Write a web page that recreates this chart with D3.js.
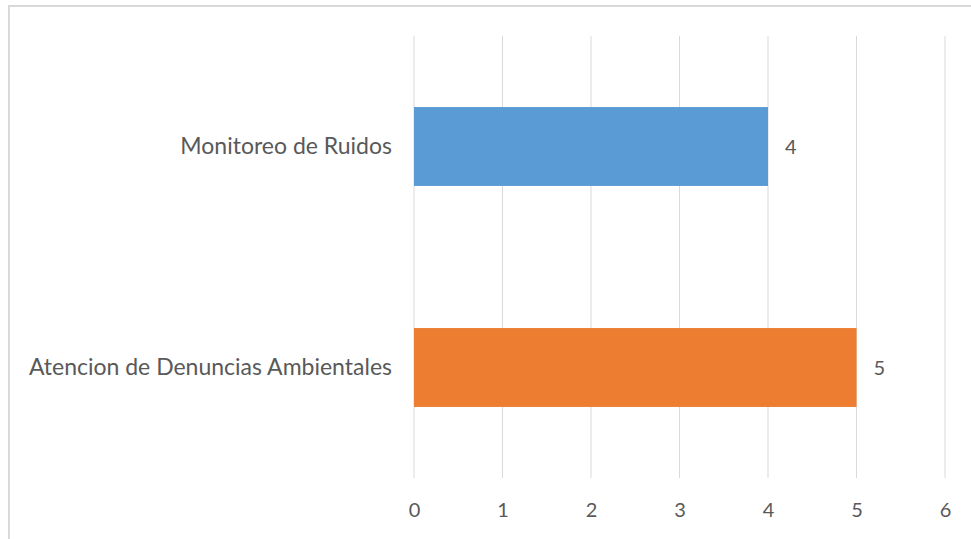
<!DOCTYPE html>
<html><head><meta charset="utf-8">
<script src="https://cdn.jsdelivr.net/npm/d3@7"></script>
<style>html,body{margin:0;padding:0;background:#fff;}svg{display:block;}</style>
</head><body>
<svg id="chart" width="971" height="539"></svg>
<script>
const categories = ["Monitoreo de Ruidos", "Atencion de Denuncias Ambientales"];
const values = [4, 5];
const barColors = ["#5B9BD5", "#ED7D31"];
const tickValues = [0, 1, 2, 3, 4, 5, 6];

const svg = d3.select("#chart");
const W = 971, H = 539;
const font = "Lato, 'Open Sans', sans-serif";
const textColor = "#595959";

// outer chart border
svg.append("rect").attr("x", 9).attr("y", 6).attr("width", W + 10).attr("height", H + 10)
  .attr("fill", "#fff").attr("stroke", "#d9d9d9").attr("stroke-width", 2);

const x = d3.scaleLinear().domain([0, 6]).range([414, 945]);
const y = d3.scaleBand().domain(categories).range([36, 478]).paddingInner(0.643).paddingOuter(0.3215);

// gridlines
svg.append("g").selectAll("line").data(tickValues).join("line")
  .attr("x1", d => x(d)).attr("x2", d => x(d))
  .attr("y1", 36).attr("y2", 478)
  .attr("stroke", "#d9d9d9").attr("stroke-width", 1);

// x axis labels
const xAxis = d3.axisBottom(x).tickValues(tickValues).tickFormat(d3.format("d")).tickSize(0).tickPadding(0);
const gx = svg.append("g").attr("transform", "translate(0,510)").call(xAxis);
gx.select(".domain").remove();
gx.selectAll("text").attr("dy", "0.35em").attr("font-family", font).attr("font-size", 20).attr("fill", textColor);

// y axis labels
const yAxis = d3.axisLeft(y).tickSize(0).tickPadding(22);
const gy = svg.append("g").attr("transform", `translate(${x(0)},0)`).call(yAxis);
gy.select(".domain").remove();
gy.selectAll("text").attr("font-family", font).attr("font-size", 23).attr("fill", textColor);

// bars
svg.append("g").selectAll("rect").data(values).join("rect")
  .attr("x", x(0))
  .attr("y", (d, i) => y(categories[i]))
  .attr("width", d => x(d) - x(0))
  .attr("height", y.bandwidth())
  .attr("fill", (d, i) => barColors[i]);

// value labels
svg.append("g").selectAll("text").data(values).join("text")
  .attr("x", d => x(d) + 17)
  .attr("y", (d, i) => y(categories[i]) + y.bandwidth() / 2)
  .attr("dy", "0.35em")
  .attr("font-family", font).attr("font-size", 20).attr("fill", textColor)
  .text(d => d);
</script>
</body></html>
